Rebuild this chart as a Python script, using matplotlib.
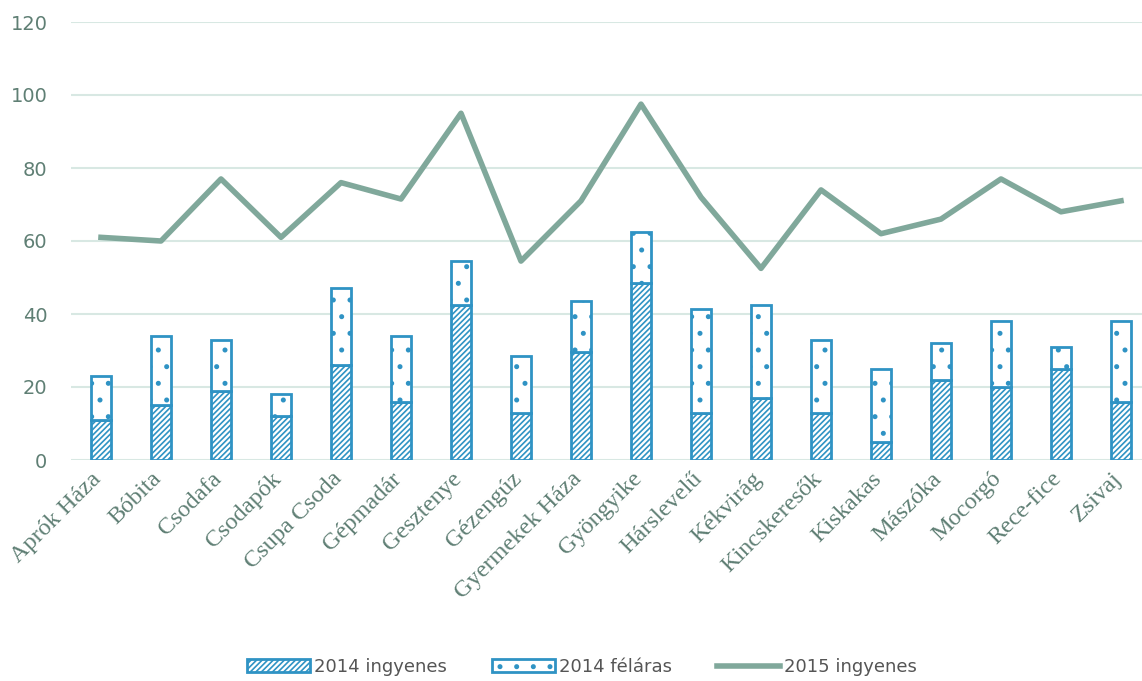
import numpy as np
import matplotlib
matplotlib.use('Agg')
import matplotlib.pyplot as plt
import matplotlib.transforms as mtransforms

# Adatok
ovodak = ['Aprók Háza', 'Bóbita', 'Csodafa', 'Csodapók', 'Csupa Csoda', 'Gépmadár',
          'Gesztenye', 'Gézengúz', 'Gyermekek Háza', 'Gyöngyike', 'Hárslevelű',
          'Kékvirág', 'Kincskeresők', 'Kiskakas', 'Mászóka', 'Mocorgó',
          'Rece-fice', 'Zsivaj']
ingyenes_2014 = [11, 15, 19, 12, 26, 16, 42.5, 13, 29.5, 48.5, 13, 17, 13, 5, 22, 20, 25, 16]
osszes_2014 = [23, 34, 33, 18, 47, 34, 54.5, 28.5, 43.5, 62.5, 41.5, 42.5, 33, 25, 32, 38, 31, 38]
felaras_2014 = [o - i for o, i in zip(osszes_2014, ingyenes_2014)]
ingyenes_2015 = [61, 60, 77, 61, 76, 71.5, 95, 54.5, 71, 97.5, 72, 52.5, 74, 62, 66, 77, 68, 71]

kek = '#2f93c4'
zold = '#80a89b'
szurke = '#5f7f74'

plt.rcParams['hatch.linewidth'] = 1.2

fig = plt.figure(figsize=(11.42, 6.81), dpi=100)
ax = fig.add_axes([71 / 1142, 1 - 460 / 681, (1142 - 71) / 1142, (460 - 22) / 681])

x = np.arange(len(ovodak))
b1 = ax.bar(x, ingyenes_2014, width=0.33, color='white', edgecolor=kek, linewidth=2,
            hatch='//////', label='2014 ingyenes', zorder=3)
b2 = ax.bar(x, felaras_2014, width=0.33, bottom=ingyenes_2014, color='white', edgecolor=kek,
            linewidth=2, hatch='.', label='2014 féláras', zorder=3)
l1, = ax.plot(x, ingyenes_2015, color=zold, linewidth=4, label='2015 ingyenes', zorder=4)

ax.set_xlim(-0.5, 17.35)
ax.set_ylim(0, 120)
ax.set_yticks(range(0, 121, 20))
ax.grid(axis='y', color='#d8e8e3', linewidth=1.5, zorder=0)
for s in ax.spines.values():
    s.set_visible(False)
ax.tick_params(length=0)
ax.tick_params(axis='y', labelsize=14, labelcolor=szurke, pad=17)

ax.set_xticks(x)
ax.set_xticklabels(ovodak, rotation=45, ha='right', rotation_mode='anchor',
                   family='Liberation Serif', fontsize=17.5, color=szurke)
ax.tick_params(axis='x', pad=6)
eltolas = mtransforms.ScaledTranslation(-10 / 100, 0, fig.dpi_scale_trans)
for t in ax.get_xticklabels():
    t.set_transform(t.get_transform() + eltolas)

ax.legend([b1, b2, l1], ['2014 ingyenes', '2014 féláras', '2015 ingyenes'],
          loc='lower center', bbox_to_anchor=(0.477, -0.53), ncol=3,
          frameon=False, fontsize=13, handlelength=3.5, columnspacing=2.5,
          handletextpad=0.2, labelcolor='#555555')

fig.savefig('out.png', dpi=100)
